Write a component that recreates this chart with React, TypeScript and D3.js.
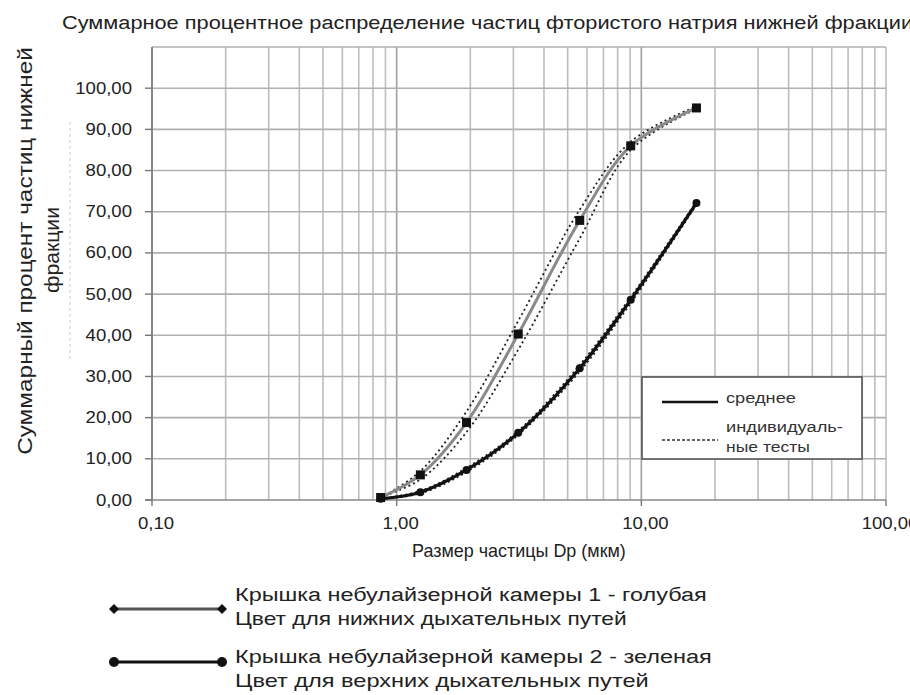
import { useLayoutEffect, useRef, useState } from 'react';
import * as d3 from 'd3';

// particle size, мкм
const sizes = [0.86, 1.25, 1.93, 3.14, 5.6, 9.05, 16.8];
// camera 1 (mean) and its individual tests
const cam1Mean = [0.6, 6.1, 18.8, 40.3, 67.9, 86.0, 95.2];
const cam1TestA = [0.5, 7.0, 21.5, 43.5, 70.5, 87.0, 95.6];
const cam1TestB = [0.7, 5.0, 16.5, 36.5, 63.5, 85.0, 95.0];
// camera 2 (mean) and its individual tests
const cam2Mean = [0.3, 1.9, 7.3, 16.3, 32.0, 48.6, 72.1];
const cam2TestA = [0.3, 2.2, 7.8, 16.8, 32.8, 49.3, 72.5];
const cam2TestB = [0.3, 1.6, 6.8, 15.8, 31.2, 47.8, 71.7];

const yTicks = [0, 10, 20, 30, 40, 50, 60, 70, 80, 90, 100];
const xTicks = [0.1, 1, 10, 100];

const title = 'Суммарное процентное распределение частиц фтористого натрия нижней фракции';
const yTitle1 = 'Суммарный процент частиц нижней';
const yTitle2 = 'фракции';
const xTitle = 'Размер частицы Dp (мкм)';
const boxLegend = ['среднее', 'индивидуаль-', 'ные тесты'];
const bottomLegend = [
  ['Крышка небулайзерной камеры 1 - голубая', 'Цвет для нижних дыхательных путей'],
  ['Крышка небулайзерной камеры 2 - зеленая', 'Цвет для верхних дыхательных путей'],
];

const W = 910;
const H = 695;
const left = 152;
const right = 886;
const top = 47;
const bottom = 500;
const font = 'Liberation Sans, Arial, sans-serif';
const ink = '#222';

const fmt = (v: number) => d3.format('.2f')(v).replace('.', ',');

// text stretched horizontally to a given width (the source image is a bit wide)
const FitText = ({ x, y, width, size, anchor = 'start', rotate = 0, fill = ink, children }: {
  x: number, y: number, width: number, size: number, anchor?: string, rotate?: number,
  fill?: string, children: string
}) => {
  const ref = useRef<SVGTextElement>(null);
  const [sx, setSx] = useState(1);
  useLayoutEffect(() => {
    if (ref.current) {
      const len = ref.current.getComputedTextLength();
      if (len > 0) setSx(width / len);
    }
  }, [width, children, size]);
  return (
    <text ref={ref} transform={`translate(${x},${y}) rotate(${rotate}) scale(${sx},1)`}
      textAnchor={anchor} fontSize={size} fill={fill}>{children}</text>
  );
};

const App = () => {
  const x = d3.scaleLog().domain([0.1, 100]).range([left, right]);
  const y = d3.scaleLinear().domain([0, 110]).range([bottom, top]);

  const line = d3.line<[number, number]>()
    .x(d => x(d[0]))
    .y(d => y(d[1]))
    .curve(d3.curveCatmullRom.alpha(0.5));
  const pts = (vals: number[]) => sizes.map((s, i) => [s, vals[i]] as [number, number]);

  const minor: number[] = [];
  [0.1, 1, 10].forEach(d => {
    for (let k = 1; k <= 9; k++) minor.push(d * k);
  });
  minor.push(100);
  const hLines = d3.range(10, 111, 10);

  return (
    <svg width={W} height={H} style={{ position: 'absolute', left: 0, top: 0, background: '#fff' }}
      fontFamily={font}>
      <rect width={W} height={H} fill="#fff" />

      <FitText x={62} y={29} width={852} size={18.5}>{title}</FitText>

      {/* grid */}
      {minor.map(v => (
        <line key={'v' + v} x1={x(v)} x2={x(v)} y1={top} y2={bottom}
          stroke={v === 10 || v === 1 ? '#a0a0a0' : '#bdbdbd'} strokeWidth={1.6} />
      ))}
      {hLines.map(v => (
        <line key={'h' + v} x1={left} x2={right} y1={y(v)} y2={y(v)} stroke="#b0b0b0" strokeWidth={1.6} />
      ))}

      {/* axes */}
      <line x1={left} x2={left} y1={top} y2={bottom + 1} stroke="#777" strokeWidth={1.6} />
      <line x1={left - 7} x2={right} y1={bottom} y2={bottom} stroke="#888" strokeWidth={1.6} />
      {yTicks.map(v => (
        <g key={'yt' + v}>
          <line x1={left - 7} x2={left} y1={y(v)} y2={y(v)} stroke="#777" strokeWidth={1.4} />
          <text transform={`translate(132,${y(v) + 5.5}) scale(1.16,1)`} textAnchor="end"
            fontSize={16} fill={ink}>{fmt(v)}</text>
        </g>
      ))}
      {xTicks.map(v => (
        <g key={'xt' + v}>
          <line x1={x(v)} x2={x(v)} y1={bottom} y2={bottom + 6} stroke="#777" strokeWidth={1.4} />
          <text transform={`translate(${x(v) + 4},529) scale(1.16,1)`} textAnchor="middle"
            fontSize={16} fill={ink}>{fmt(v)}</text>
        </g>
      ))}

      {/* axis titles */}
      <FitText x={32} y={251} width={408} size={20} anchor="middle" rotate={-90}>{yTitle1}</FitText>
      <FitText x={59} y={250} width={86} size={20} anchor="middle" rotate={-90}>{yTitle2}</FitText>
      <line x1={70} x2={70} y1={122} y2={362} stroke="#ccc" strokeWidth={1} strokeDasharray="3,3" />
      <FitText x={412} y={557} width={214} size={18}>{xTitle}</FitText>

      {/* individual tests */}
      {[cam1TestA, cam1TestB, cam2TestA, cam2TestB].map((t, i) => (
        <path key={'t' + i} d={line(pts(t)) || ''} fill="none" stroke="#222" strokeWidth={1.8}
          strokeDasharray="2,3" />
      ))}

      {/* camera 1 mean */}
      <path d={line(pts(cam1Mean)) || ''} fill="none" stroke="#8a8a8a" strokeWidth={3} />
      {sizes.map((s, i) => (
        <rect key={'m1' + i} x={x(s) - 4.5} y={y(cam1Mean[i]) - 4.5} width={9} height={9} fill="#111" />
      ))}

      {/* camera 2 mean */}
      <path d={line(pts(cam2Mean)) || ''} fill="none" stroke="#111" strokeWidth={3.2} />
      {sizes.map((s, i) => (
        <circle key={'m2' + i} cx={x(s)} cy={y(cam2Mean[i])} r={4} fill="#111" />
      ))}

      {/* legend box */}
      <rect x={642} y={377} width={220} height={82} fill="#fff" stroke="#555" strokeWidth={1.6} />
      <line x1={662} x2={718} y1={402} y2={402} stroke="#111" strokeWidth={2.5} />
      <line x1={662} x2={718} y1={440} y2={440} stroke="#333" strokeWidth={1.5} strokeDasharray="3,2" />
      <FitText x={726} y={403} width={70} size={15} fill="#333">{boxLegend[0]}</FitText>
      <FitText x={726} y={432} width={117} size={15} fill="#333">{boxLegend[1]}</FitText>
      <FitText x={726} y={452} width={84} size={15} fill="#333">{boxLegend[2]}</FitText>

      {/* bottom legend */}
      <line x1={114} x2={222} y1={609} y2={609} stroke="#555" strokeWidth={3} />
      {[114, 222].map(cx => (
        <path key={'d' + cx} d={`M${cx},${604} L${cx + 5},609 L${cx},614 L${cx - 5},609 Z`} fill="#111" />
      ))}
      <line x1={114} x2={222} y1={662} y2={662} stroke="#111" strokeWidth={3} />
      {[114, 222].map(cx => (
        <circle key={'c' + cx} cx={cx} cy={662} r={5} fill="#111" />
      ))}
      <FitText x={235} y={601} width={472} size={18}>{bottomLegend[0][0]}</FitText>
      <FitText x={235} y={625} width={392} size={18}>{bottomLegend[0][1]}</FitText>
      <FitText x={235} y={663} width={477} size={18}>{bottomLegend[1][0]}</FitText>
      <FitText x={235} y={687} width={414} size={18}>{bottomLegend[1][1]}</FitText>
    </svg>
  );
};

export default App;
